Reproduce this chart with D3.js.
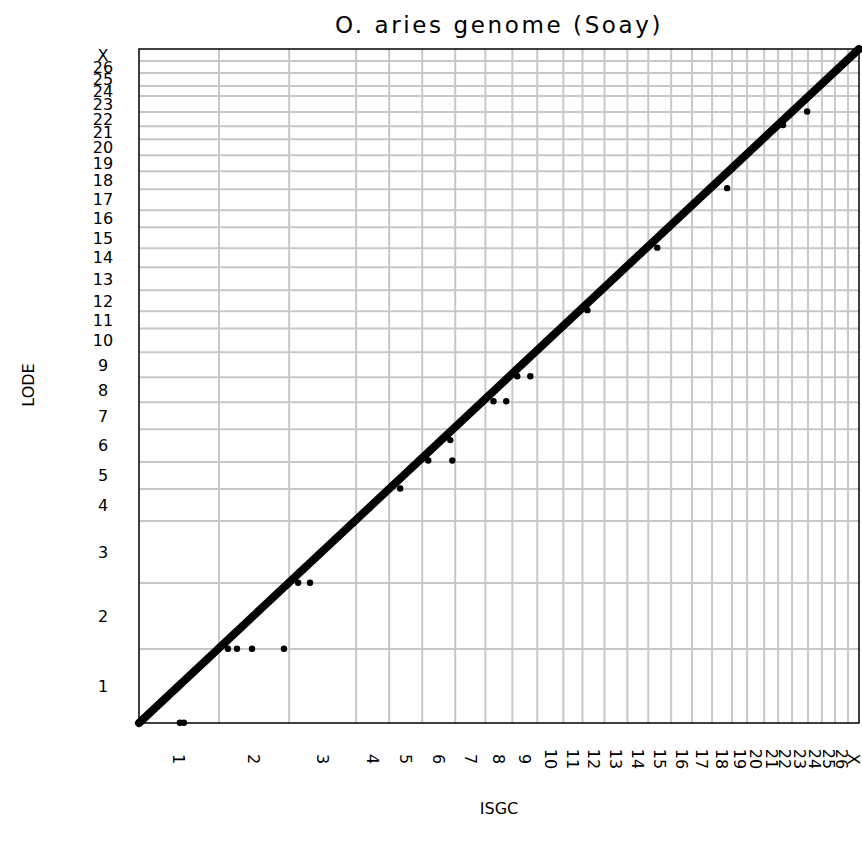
<!DOCTYPE html>
<html>
<head>
<meta charset="utf-8">
<script src="https://cdn.jsdelivr.net/npm/d3@7"></script>
<style>
  body { margin: 0; background: #fff; }
</style>
</head>
<body>
<div id="chart"></div>
<script>
// chromosome names, shared by both assemblies
const chromosomes = ['1', '2', '3', '4', '5', '6', '7', '8', '9', '10', '11', '12', '13',
  '14', '15', '16', '17', '18', '19', '20', '21', '22', '23', '24', '25', '26', 'X'];

// chromosome lengths (Mb) on the ISGC assembly (x axis)
const isgcLengths = [276, 242, 231, 114, 114, 114, 104, 93, 86, 90, 66, 76, 79,
  72, 79, 72, 69, 69, 52, 59, 48, 48, 55, 48, 45, 45, 38];

// chromosome lengths (Mb) on the LODE assembly (y axis)
const lodeLengths = [272, 243, 228, 118, 99, 121, 99, 92, 92, 88, 63, 77, 85,
  70, 77, 63, 77, 66, 59, 59, 48, 52, 59, 37, 48, 44, 44];

// collinear run of markers: [ISGC chr, ISGC Mb, LODE chr, LODE Mb] for start and end
const collinear = [
  [['1', 0, '1', 0], ['X', 38, 'X', 44]]
];

// markers off the main diagonal: [ISGC chr, ISGC Mb, LODE chr, LODE Mb]
const markers = [
  ['1', 141, '1', 1], ['1', 155, '1', 1],
  ['2', 31, '2', 1], ['2', 62, '2', 1], ['2', 114, '2', 1], ['2', 224, '2', 1],
  ['3', 31, '3', 1], ['3', 72, '3', 1],
  ['5', 38, '5', 2],
  ['6', 21, '6', 6], ['6', 104, '6', 6], ['6', 97, '6', 81],
  ['8', 28, '8', 4], ['8', 72, '8', 4],
  ['9', 17, '9', 4], ['9', 62, '9', 4],
  ['12', 17, '12', 4],
  ['15', 31, '15', 2],
  ['18', 52, '18', 4],
  ['22', 17, '22', 4],
  ['23', 52, '23', 2]
];

const titleText = 'O. aries genome (Soay)';
const xTitle = 'ISGC';
const yTitle = 'LODE';

const W = 862, H = 851;
const margin = { top: 49, right: 3, bottom: 128, left: 139 };
const width = W - margin.left - margin.right;
const height = H - margin.top - margin.bottom;

// cumulative offsets of each chromosome
const offsets = arr => arr.reduce((acc, v, i) => { acc.push(i ? acc[i - 1] + arr[i - 1] : 0); return acc; }, []);
const xOff = offsets(isgcLengths);
const yOff = offsets(lodeLengths);
const xTotal = d3.sum(isgcLengths);
const yTotal = d3.sum(lodeLengths);

const xScale = d3.scaleLinear().domain([0, xTotal]).range([0, width]);
const yScale = d3.scaleLinear().domain([0, yTotal]).range([height, 0]);

const idx = name => chromosomes.indexOf(name);
const px = d => xScale(xOff[idx(d[0])] + d[1]);
const py = d => yScale(yOff[idx(d[2])] + d[3]);

const svg = d3.select('#chart').append('svg')
  .attr('width', W)
  .attr('height', H)
  .style('font-family', "'DejaVu Sans', sans-serif");

const g = svg.append('g')
  .attr('transform', `translate(${margin.left},${margin.top})`);

// grid at chromosome boundaries
g.selectAll('.vgrid')
  .data(xOff.slice(1))
  .enter()
  .append('line')
  .attr('class', 'vgrid')
  .attr('x1', d => xScale(d))
  .attr('x2', d => xScale(d))
  .attr('y1', 0)
  .attr('y2', height)
  .attr('stroke', '#c8c8c8')
  .attr('stroke-width', 2);

g.selectAll('.hgrid')
  .data(yOff.slice(1))
  .enter()
  .append('line')
  .attr('class', 'hgrid')
  .attr('x1', 0)
  .attr('x2', width)
  .attr('y1', d => yScale(d))
  .attr('y2', d => yScale(d))
  .attr('stroke', '#c8c8c8')
  .attr('stroke-width', 2);

// frame
g.append('rect')
  .attr('x', 0)
  .attr('y', 0)
  .attr('width', width)
  .attr('height', height)
  .attr('fill', 'none')
  .attr('stroke', '#000')
  .attr('stroke-width', 1.5);

// dense collinear markers drawn as a thick run
g.selectAll('.diag')
  .data(collinear)
  .enter()
  .append('line')
  .attr('class', 'diag')
  .attr('x1', d => px(d[0]))
  .attr('y1', d => py(d[0]))
  .attr('x2', d => px(d[1]))
  .attr('y2', d => py(d[1]))
  .attr('stroke', '#000')
  .attr('stroke-width', 8)
  .attr('stroke-linecap', 'round');

// off-diagonal markers
g.selectAll('.marker')
  .data(markers)
  .enter()
  .append('circle')
  .attr('class', 'marker')
  .attr('cx', px)
  .attr('cy', py)
  .attr('r', 3.2)
  .attr('fill', '#000');

// x tick labels, rotated, at chromosome centres
g.selectAll('.xlab')
  .data(chromosomes)
  .enter()
  .append('text')
  .attr('class', 'xlab')
  .attr('transform', (d, i) => `translate(${xScale(xOff[i] + isgcLengths[i] / 2)},${height + 36}) rotate(90)`)
  .attr('text-anchor', 'middle')
  .attr('dy', '0.35em')
  .style('font-size', '16px')
  .attr('fill', '#000')
  .text(d => d);

// y tick labels
g.selectAll('.ylab')
  .data(chromosomes)
  .enter()
  .append('text')
  .attr('class', 'ylab')
  .attr('x', -36)
  .attr('y', (d, i) => yScale(yOff[i] + lodeLengths[i] / 2))
  .attr('text-anchor', 'middle')
  .attr('dy', '0.36em')
  .style('font-size', '16px')
  .attr('fill', '#000')
  .text(d => d);

// titles
svg.append('text')
  .attr('x', margin.left + width / 2)
  .attr('y', 33)
  .attr('text-anchor', 'middle')
  .style('font-size', '23px')
  .style('letter-spacing', '2.6px')
  .text(titleText);

svg.append('text')
  .attr('x', margin.left + width / 2)
  .attr('y', 814)
  .attr('text-anchor', 'middle')
  .style('font-size', '16px')
  .text(xTitle);

svg.append('text')
  .attr('transform', `translate(34,385) rotate(-90)`)
  .attr('text-anchor', 'middle')
  .style('font-size', '16px')
  .text(yTitle);
</script>
</body>
</html>
